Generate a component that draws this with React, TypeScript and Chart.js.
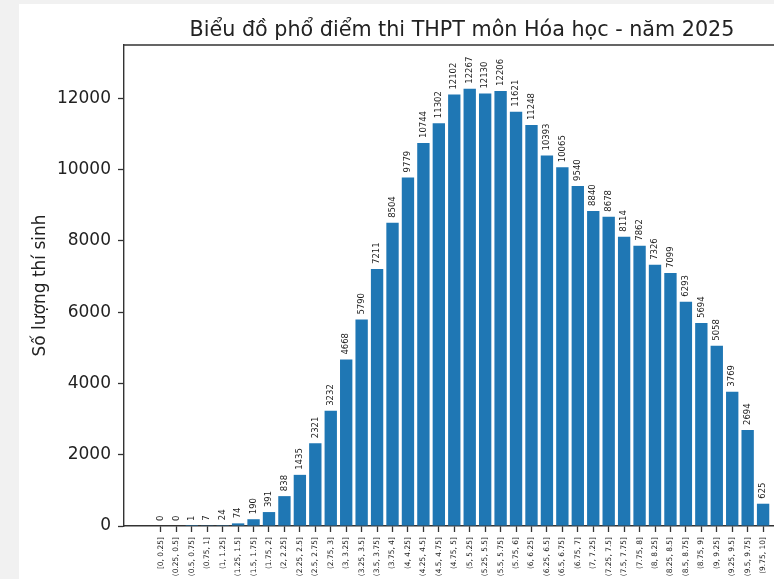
import React, { useEffect, useRef } from "react";
import { Chart, registerables } from "chart.js";

Chart.register(...registerables);

const categories = [
  "[0, 0.25]", "(0.25, 0.5]", "(0.5, 0.75]", "(0.75, 1]", "(1, 1.25]",
  "(1.25, 1.5]", "(1.5, 1.75]", "(1.75, 2]", "(2, 2.25]", "(2.25, 2.5]",
  "(2.5, 2.75]", "(2.75, 3]", "(3, 3.25]", "(3.25, 3.5]", "(3.5, 3.75]",
  "(3.75, 4]", "(4, 4.25]", "(4.25, 4.5]", "(4.5, 4.75]", "(4.75, 5]",
  "(5, 5.25]", "(5.25, 5.5]", "(5.5, 5.75]", "(5.75, 6]", "(6, 6.25]",
  "(6.25, 6.5]", "(6.5, 6.75]", "(6.75, 7]", "(7, 7.25]", "(7.25, 7.5]",
  "(7.5, 7.75]", "(7.75, 8]", "(8, 8.25]", "(8.25, 8.5]", "(8.5, 8.75]",
  "(8.75, 9]", "(9, 9.25]", "(9.25, 9.5]", "(9.5, 9.75]", "(9.75, 10]",
];

const counts = [
  0, 0, 1, 7, 24, 74, 190, 391, 838, 1435,
  2321, 3232, 4668, 5790, 7211, 8504, 9779, 10744, 11302, 12102,
  12267, 12130, 12206, 11621, 11248, 10393, 10065, 9540, 8840, 8678,
  8114, 7862, 7326, 7099, 6293, 5694, 5058, 3769, 2694, 625,
];

const yTicks = [0, 2000, 4000, 6000, 8000, 10000, 12000];

const chartTitle = "Biểu đồ phổ điểm thi THPT môn Hóa học - năm 2025";
const yAxisTitle = "Số lượng thí sinh";

const FONT = "'DejaVu Sans', sans-serif";
const TEXT = "#222";
const BAR = "#1f77b4";

const valueLabels = {
  id: "valueLabels",
  afterDatasetsDraw(chart: any) {
    const ctx = chart.ctx;
    const meta = chart.getDatasetMeta(0);
    ctx.save();
    ctx.fillStyle = TEXT;
    ctx.font = `8.5px ${FONT}`;
    ctx.textAlign = "left";
    ctx.textBaseline = "middle";
    meta.data.forEach((bar: any, i: number) => {
      ctx.save();
      ctx.translate(bar.x, bar.y - 5);
      ctx.rotate(-Math.PI / 2);
      ctx.fillText(String(counts[i]), 0, 0);
      ctx.restore();
    });
    ctx.restore();
  },
};

const axesTitle = {
  id: "axesTitle",
  afterDraw(chart: any) {
    const { ctx, chartArea } = chart;
    ctx.save();
    ctx.fillStyle = TEXT;
    ctx.font = `20.7px ${FONT}`;
    ctx.textAlign = "center";
    ctx.textBaseline = "alphabetic";
    ctx.fillText(chartTitle, (chartArea.left + chartArea.right) / 2, chartArea.top - 9);
    ctx.restore();
  },
};

const frame = {
  id: "frame",
  afterDatasetsDraw(c: any) {
    const { ctx, chartArea } = c;
    ctx.save();
    ctx.strokeStyle = "#333";
    ctx.lineWidth = 1.4;
    ctx.beginPath();
    ctx.moveTo(chartArea.left, chartArea.top);
    ctx.lineTo(chartArea.right, chartArea.top);
    ctx.lineTo(chartArea.right, chartArea.bottom);
    ctx.stroke();
    ctx.restore();
  },
};

export default function App() {
  const ref = useRef<HTMLCanvasElement | null>(null);

  useEffect(() => {
    if (!ref.current) return;
    const n = categories.length;
    const span = n - 0.2;
    const margin = span * 0.05;
    const chart = new Chart(ref.current, {
      type: "bar",
      data: {
        datasets: [
          {
            data: counts.map((v, i) => ({ x: i, y: v })),
            backgroundColor: BAR,
            borderWidth: 0,
            categoryPercentage: 0.8,
            barPercentage: 1,
          },
        ],
      },
      options: {
        animation: false,
        responsive: false,
        devicePixelRatio: 1,
        layout: { padding: { left: 0, right: 124, top: 45, bottom: 0 } },
        plugins: {
          legend: { display: false },
          tooltip: { enabled: false },
          title: { display: false },
        },
        scales: {
          x: {
            type: "linear",
            offset: false,
            min: -0.4 - margin,
            max: n - 1 + 0.4 + margin,
            grid: {
              offset: false,
              drawOnChartArea: false,
              drawTicks: true,
              tickLength: 6,
              tickWidth: 1.3,
              tickColor: "#333",
            },
            border: { display: true, color: "#333", width: 1.4 },
            ticks: {
              stepSize: 1,
              autoSkip: false,
              minRotation: 90,
              maxRotation: 90,
              padding: 5,
              color: TEXT,
              font: { family: FONT, size: 7.5 },
              callback: (v: any) => categories[v] ?? "",
            },
            afterBuildTicks: (scale: any) => {
              scale.ticks = categories.map((_, i) => ({ value: i }));
            },
            afterFit: (scale: any) => {
              scale.height = 53;
            },
          },
          y: {
            min: 0,
            max: Math.max(...counts) * 1.1,
            grid: {
              drawOnChartArea: false,
              drawTicks: true,
              tickLength: 6,
              tickWidth: 1.3,
              tickColor: "#333",
            },
            border: { display: true, color: "#333", width: 1.4 },
            ticks: {
              padding: 7,
              color: TEXT,
              font: { family: FONT, size: 17 },
              callback: (v: any) => String(v),
            },
            afterBuildTicks: (scale: any) => {
              scale.ticks = yTicks.map((v) => ({ value: v }));
            },
            afterFit: (scale: any) => {
              scale.width = 124;
            },
            title: {
              display: true,
              text: yAxisTitle,
              color: TEXT,
              font: { family: FONT, size: 17 },
              padding: { top: 30, bottom: 0 },
            },
          },
        },
      },
      plugins: [valueLabels, frame, axesTitle],
    } as any);
    return () => chart.destroy();
  }, []);

  return (
    <div
      style={{
        position: "fixed",
        left: 0,
        top: 0,
        width: 774,
        height: 579,
        overflow: "hidden",
        background: "#f1f1f1",
      }}
    >
      <div
        style={{
          position: "absolute",
          left: 19,
          top: 4,
          right: 0,
          bottom: 0,
          background: "#ffffff",
        }}
      />
      <canvas
        ref={ref}
        width={924}
        height={579}
        style={{ position: "absolute", left: 0, top: 0, width: 924, height: 579 }}
      />
    </div>
  );
}
